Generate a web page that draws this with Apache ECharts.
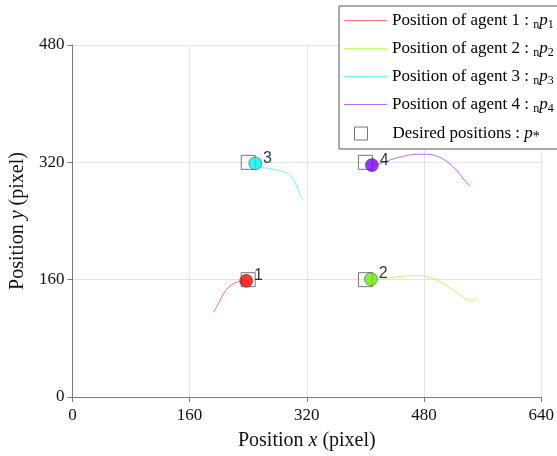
<!DOCTYPE html>
<html>
<head>
<meta charset="utf-8">
<script src="https://cdn.jsdelivr.net/npm/echarts@6/dist/echarts.min.js"></script>
<style>html,body{margin:0;padding:0;background:#fff;}#c{width:557px;height:456px;}</style>
</head>
<body>
<div id="c"></div>
<script>
// ---- data ----
const xTicks = [0, 160, 320, 480, 640];
const yTicks = [0, 160, 320, 480];
const agentNames = ['Position of agent 1', 'Position of agent 2', 'Position of agent 3', 'Position of agent 4'];
const agentLabels = ['1', '2', '3', '4'];
const agent1X = [192.8, 201, 205.5, 212.3, 221.4, 230.5, 237.3];
const agent1Y = [115.6, 130.5, 139.5, 148.6, 155.4, 157.7, 158.5];
const agent2X = [407.5, 416.4, 432.4, 450.5, 468.7, 486.8, 500.4, 514, 527.6, 538.9, 545.7, 552.5];
const agent2Y = [160.8, 159.9, 162.2, 164.5, 165.9, 163.5, 157.7, 149.5, 140.4, 132.7, 131.9, 134];
const agent3X = [249.6, 255.5, 269, 282.7, 294, 300.8, 305.4, 309, 313.6, 315.3];
const agent3Y = [318.5, 314, 311.7, 308.6, 304.9, 298.1, 289, 280, 271, 269.7];
const agent4X = [408.8, 417, 433, 451, 469, 483, 496, 510, 524, 535, 543];
const agent4Y = [316.2, 317, 323, 328, 331, 331, 329, 322, 309.5, 296, 287];
const desiredX = [240, 400, 240, 400];
const desiredY = [160, 160, 320, 320];
const currentX = [237.3, 407.5, 249.6, 408.8];
const currentY = [158.5, 160.8, 318.5, 316.2];

// ---- styles ----
const lineColors = ['#ff6f6f', '#b8ff6a', '#6ff5ff', '#b070ff'];
const dotColors = ['#ff0000', '#66ee00', '#00f0f0', '#7f00ff'];
const serif = '"Liberation Serif", "Times New Roman", serif';

const pairs = (xs, ys) => xs.map((x, i) => [x, ys[i]]);
const trajX = [agent1X, agent2X, agent3X, agent4X];
const trajY = [agent1Y, agent2Y, agent3Y, agent4Y];

const series = [];
for (let k = 0; k < 4; k++) {
  series.push({
    name: agentNames[k],
    type: 'line',
    data: pairs(trajX[k], trajY[k]),
    symbol: 'none',
    smooth: 0.35,
    lineStyle: { color: lineColors[k], width: 1 },
    itemStyle: { color: lineColors[k] },
    z: 2
  });
}
series.push({
  name: 'Desired positions',
  type: 'scatter',
  data: pairs(desiredX, desiredY),
  symbol: 'rect',
  symbolSize: 14,
  itemStyle: { color: 'rgba(255,255,255,0)', borderColor: '#555', borderWidth: 1 },
  z: 3
});
series.push({
  name: 'current',
  type: 'scatter',
  data: currentX.map((x, i) => ({
    value: [x, currentY[i]],
    itemStyle: { color: dotColors[i] },
    label: { formatter: agentLabels[i] }
  })),
  symbol: 'circle',
  symbolSize: 13,
  itemStyle: { borderColor: '#333', borderWidth: 0.6 },
  label: {
    show: true, position: 'right', distance: 1, offset: [0, -5],
    color: '#000', fontSize: 16, fontFamily: '"Liberation Sans", Arial, sans-serif'
  },
  z: 4
});

const legendRich = {
  a: { fontFamily: serif, fontSize: 17, color: '#000' },
  s: { fontFamily: serif, fontSize: 12, color: '#000', padding: [9, 0, 0, 0] },
  p: { fontFamily: serif, fontSize: 17, fontStyle: 'italic', color: '#000' },
  sp: { width: 20 }
};

const option = {
  animation: false,
  backgroundColor: '#fff',
  grid: { left: 72, right: 15, top: 45, bottom: 57 },
  legend: [{
    data: agentNames.map(n => ({ name: n, icon: 'path://M0,0H43V1H0Z' })),
    orient: 'vertical',
    left: 339, top: 6,
    itemWidth: 43, itemHeight: 14, itemGap: 9,
    padding: [6, 4, 34, 5],
    borderColor: '#555', borderWidth: 1,
    backgroundColor: '#fff',
    formatter: function (name) {
      const i = agentNames.indexOf(name) + 1;
      return '{a|' + name + ' : }{s|n}{p|p}{s|' + i + '}';
    },
    textStyle: { rich: legendRich }
  }, {
    data: [{ name: 'Desired positions', icon: 'rect' }],
    orient: 'vertical',
    left: 354, top: 125,
    itemWidth: 13, itemHeight: 13,
    padding: 0,
    itemStyle: { color: 'rgba(255,255,255,0)', borderColor: '#555', borderWidth: 1 },
    formatter: function (name) {
      return '{sp|}{a|' + name + ' : }{p|p}{s|*}';
    },
    textStyle: { rich: Object.assign({}, legendRich, { s: { fontFamily: serif, fontSize: 14, color: '#000', padding: [7, 0, 0, 0] } }) }
  }],
  xAxis: {
    type: 'value', min: 0, max: 640, interval: 160,
    name: '{t|Position }{i|x}{t| (pixel)}',
    nameLocation: 'middle', nameGap: 34,
    nameTextStyle: { rich: {
      t: { fontFamily: serif, fontSize: 20, color: '#111' },
      i: { fontFamily: serif, fontSize: 20, fontStyle: 'italic', color: '#111' } } },
    axisLine: { show: true, onZero: false, lineStyle: { color: '#7a7a7a', width: 1 } },
    axisTick: { show: true, inside: false, length: 5, lineStyle: { color: '#7a7a7a' } },
    axisLabel: { fontFamily: serif, fontSize: 17, color: '#111', margin: 10,
      formatter: v => xTicks.includes(v) ? String(v) : '' },
    splitLine: { show: true, lineStyle: { color: '#e3e3e3', width: 1 } }
  },
  yAxis: {
    type: 'value', min: 0, max: 480, interval: 160,
    name: '{t|Position }{i|y}{t| (pixel)}',
    nameLocation: 'middle', nameGap: 44, nameRotate: 90,
    nameTextStyle: { rich: {
      t: { fontFamily: serif, fontSize: 20, color: '#111' },
      i: { fontFamily: serif, fontSize: 20, fontStyle: 'italic', color: '#111' } } },
    axisLine: { show: true, onZero: false, lineStyle: { color: '#7a7a7a', width: 1 } },
    axisTick: { show: true, inside: false, length: 5, lineStyle: { color: '#7a7a7a' } },
    axisLabel: { fontFamily: serif, fontSize: 17, color: '#111', margin: 8,
      formatter: v => yTicks.includes(v) ? String(v) : '' },
    splitLine: { show: true, lineStyle: { color: '#e3e3e3', width: 1 } }
  },
  series: series
};

const chart = echarts.init(document.getElementById('c'), null, { renderer: 'canvas' });
chart.setOption(option);
</script>
</body>
</html>
